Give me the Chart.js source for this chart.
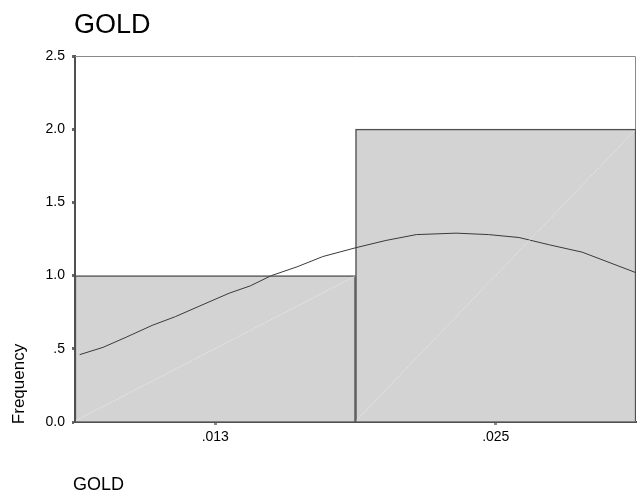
<!DOCTYPE html>
<html>
<head>
<meta charset="utf-8">
<script src="https://cdn.jsdelivr.net/npm/chart.js@4/dist/chart.umd.min.js"></script>
<style>
  html, body { margin: 0; padding: 0; background: #fff; }
  #wrap { width: 637px; height: 493px; }
</style>
</head>
<body>
<div id="wrap"><canvas id="histChart"></canvas></div>
<script>
// histogram bins (centres) and counts
const binCenters = [0.013, 0.025];
const frequencies = [1, 2];
const xTickLabels = [".013", ".025"];
const yTickLabels = ["0.0", ".5", "1.0", "1.5", "2.0", "2.5"];

// normal curve
const curveX = [0.0072, 0.0082, 0.0092, 0.0103, 0.0113, 0.0123, 0.0136, 0.0145, 0.0154, 0.0165,
    0.0176, 0.0190, 0.0203, 0.0216, 0.0233, 0.0247, 0.0260, 0.0273, 0.0287, 0.0310];
const curveY = [0.46, 0.51, 0.58, 0.66, 0.72, 0.79, 0.88, 0.93, 1.00, 1.06,
    1.13, 1.19, 1.24, 1.28, 1.29, 1.28, 1.26, 1.21, 1.16, 1.02];

const FONT = '"Liberation Sans", Arial, sans-serif';

const decorPlugin = {
    id: "decor",
    beforeDatasetsDraw(chart) {
        const ctx = chart.ctx;
        const area = chart.chartArea;
        // light frame on top and right
        ctx.save();
        ctx.strokeStyle = "#8a8a8a";
        ctx.lineWidth = 1;
        ctx.beginPath();
        ctx.moveTo(area.left, area.top + 0.5);
        ctx.lineTo(area.right - 0.5, area.top + 0.5);
        ctx.lineTo(area.right - 0.5, area.bottom);
        ctx.stroke();
        ctx.restore();
    },
    afterDatasetsDraw(chart) {
        const ctx = chart.ctx;
        // faint diagonals inside each bar
        const meta = chart.getDatasetMeta(0);
        ctx.save();
        ctx.strokeStyle = "#e6e6e6";
        ctx.lineWidth = 1;
        ctx.setLineDash([2, 1]);
        meta.data.forEach(function (bar) {
            const p = bar.getProps(["x", "y", "base", "width"], true);
            ctx.beginPath();
            ctx.moveTo(p.x - p.width / 2 + 1, p.base - 1);
            ctx.lineTo(p.x + p.width / 2 - 1, p.y + 1);
            ctx.stroke();
        });
        ctx.restore();
    },
    afterDraw(chart) {
        const ctx = chart.ctx;
        ctx.save();
        ctx.fillStyle = "#000";
        ctx.textBaseline = "alphabetic";
        ctx.textAlign = "left";
        ctx.font = "27px " + FONT;
        ctx.fillText("GOLD", 74, 33);
        ctx.font = "18px " + FONT;
        ctx.fillText("GOLD", 73, 490);
        ctx.translate(24, 384);
        ctx.rotate(-Math.PI / 2);
        ctx.textAlign = "center";
        ctx.font = "17px " + FONT;
        ctx.fillText("Frequency", 0, 0);
        ctx.restore();
    },
};

document.addEventListener("DOMContentLoaded", function () {
    const ctx = document.getElementById("histChart").getContext("2d");

    const config = {
        data: {
            datasets: [
                {
                    type: "bar",
                    data: binCenters.map((x, i) => ({ x: x, y: frequencies[i] })),
                    backgroundColor: "#d3d3d3",
                    borderColor: "#505050",
                    borderWidth: 1.5,
                    barPercentage: 1,
                    categoryPercentage: 1,
                    order: 2,
                },
                {
                    type: "line",
                    data: curveX.map((x, i) => ({ x: x, y: curveY[i] })),
                    borderColor: "#3a3a3a",
                    borderWidth: 1,
                    pointRadius: 0,
                    tension: 0,
                    fill: false,
                    order: 1,
                },
            ],
        },
        options: {
            responsive: true,
            maintainAspectRatio: false,
            animation: false,
            layout: { padding: { top: 56, right: 1, left: 0, bottom: 0 } },
            plugins: {
                legend: { display: false },
                tooltip: { enabled: false },
            },
            scales: {
                x: {
                    type: "linear",
                    min: 0.007,
                    max: 0.031,
                    offset: false,
                    afterBuildTicks: function (scale) {
                        scale.ticks = binCenters.map((v) => ({ value: v }));
                    },
                    afterFit: function (scale) {
                        scale.height = 71;
                    },
                    ticks: {
                        callback: function (value, index) {
                            return xTickLabels[index];
                        },
                        color: "#000",
                        font: { family: FONT, size: 14 },
                        padding: 4,
                        maxRotation: 0,
                    },
                    grid: {
                        offset: false,
                        drawOnChartArea: false,
                        tickLength: 3,
                        tickWidth: 3,
                        tickColor: "#888",
                    },
                    border: { color: "#505050", width: 2 },
                },
                y: {
                    min: 0,
                    max: 2.5,
                    afterFit: function (scale) {
                        scale.width = 75;
                    },
                    ticks: {
                        stepSize: 0.5,
                        callback: function (value, index) {
                            return yTickLabels[index];
                        },
                        color: "#000",
                        font: { family: FONT, size: 14 },
                        padding: 7,
                    },
                    grid: {
                        drawOnChartArea: false,
                        tickLength: 3,
                        tickWidth: 3,
                        tickColor: "#666",
                    },
                    border: { color: "#505050", width: 2 },
                },
            },
        },
        plugins: [decorPlugin],
    };

    const histChart = new Chart(ctx, config);
});
</script>
</body>
</html>
